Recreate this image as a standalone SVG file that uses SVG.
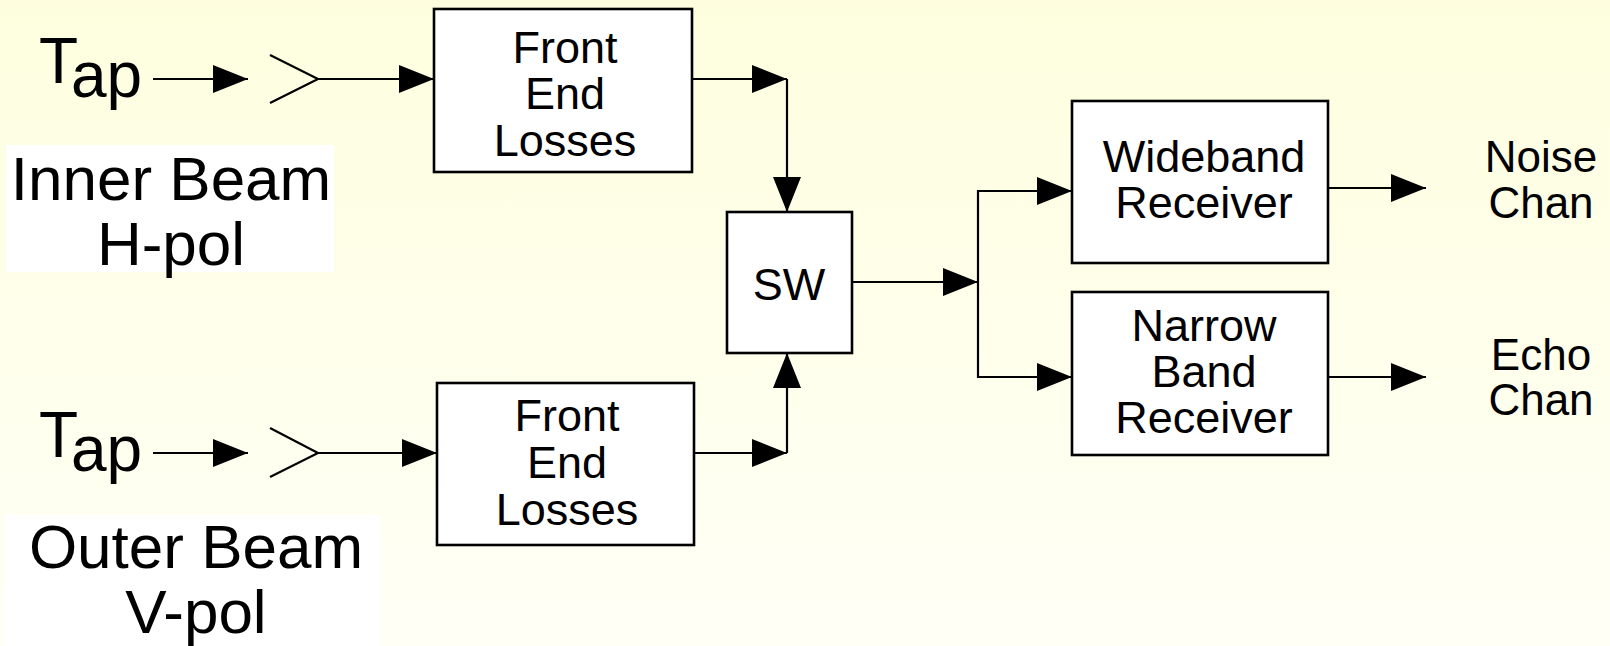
<svg xmlns="http://www.w3.org/2000/svg" width="1610" height="646" viewBox="0 0 1610 646">
<defs>
<linearGradient id="bg" x1="0" y1="0" x2="0" y2="1">
<stop offset="0" stop-color="#FEFEDF"/>
<stop offset="1" stop-color="#FFFFF6"/>
</linearGradient>
<marker id="ah" markerUnits="userSpaceOnUse" markerWidth="36" markerHeight="28" refX="35" refY="14" orient="auto">
<path d="M0,0 L35,14 L0,28 z" fill="#000"/>
</marker>
</defs>
<style>
.box{fill:#fff;stroke:#000;stroke-width:2.6}
.t{font-family:"Liberation Sans",Arial,sans-serif;fill:#000;text-anchor:middle}
.bt{font-size:45px}
.lt{font-size:62px}
.ct{font-size:44px}
.tap{font-family:"Liberation Sans",Arial,sans-serif;font-size:64px;fill:#000}
.c{fill:none;stroke:#000;stroke-width:2.2}
.a{marker-end:url(#ah)}
</style>
<rect x="0" y="0" width="1610" height="646" fill="url(#bg)"/>

<g id="label-inner">
<rect x="6" y="145" width="328" height="127" fill="#fff"/>
<text class="t lt" x="171" y="200">Inner Beam</text>
<text class="t lt" x="171" y="265">H-pol</text>
</g>
<g id="label-outer">
<rect x="5" y="515" width="375" height="131" fill="#fff"/>
<text class="t lt" x="196" y="568">Outer Beam</text>
<text class="t lt" x="196" y="633">V-pol</text>
</g>

<g id="tap-top">
<text class="tap" x="39" y="83">T<tspan dy="14">ap</tspan></text>
</g>
<g id="tap-bottom">
<text class="tap" x="39" y="457">T<tspan dy="14">ap</tspan></text>
</g>

<g id="antenna-top">
<polyline class="c" points="270,55 318,79 270,103"/>
</g>
<g id="antenna-bottom">
<polyline class="c" points="270,428 318,453 270,477"/>
</g>

<g id="fel-top">
<rect class="box" x="434" y="9" width="258" height="163"/>
<text class="t bt" x="565" y="63">Front</text>
<text class="t bt" x="565" y="109">End</text>
<text class="t bt" x="565" y="156">Losses</text>
</g>
<g id="fel-bottom">
<rect class="box" x="437" y="383" width="257" height="162"/>
<text class="t bt" x="567" y="431">Front</text>
<text class="t bt" x="567" y="478">End</text>
<text class="t bt" x="567" y="525">Losses</text>
</g>
<g id="sw">
<rect class="box" x="727" y="212" width="125" height="141"/>
<text class="t bt" x="789" y="300">SW</text>
</g>
<g id="wideband">
<rect class="box" x="1072" y="101" width="256" height="162"/>
<text class="t bt" x="1204" y="172">Wideband</text>
<text class="t bt" x="1204" y="218">Receiver</text>
</g>
<g id="narrow">
<rect class="box" x="1072" y="292" width="256" height="163"/>
<text class="t bt" x="1204" y="341">Narrow</text>
<text class="t bt" x="1204" y="387">Band</text>
<text class="t bt" x="1204" y="433">Receiver</text>
</g>
<g id="noise">
<text class="t ct" x="1541" y="172">Noise</text>
<text class="t ct" x="1541" y="218">Chan</text>
</g>
<g id="echo">
<text class="t ct" x="1541" y="370">Echo</text>
<text class="t ct" x="1541" y="415">Chan</text>
</g>

<g id="connectors">
<line class="c a" x1="153" y1="79" x2="248" y2="79"/>
<line class="c a" x1="318" y1="79" x2="434" y2="79"/>
<line class="c a" x1="692" y1="79" x2="787" y2="79"/>
<line class="c a" x1="787" y1="79" x2="787" y2="212"/>
<line class="c a" x1="153" y1="453" x2="248" y2="453"/>
<line class="c a" x1="318" y1="453" x2="437" y2="453"/>
<line class="c a" x1="694" y1="453" x2="787" y2="453"/>
<line class="c a" x1="787" y1="453" x2="787" y2="353"/>
<line class="c a" x1="852" y1="282" x2="978" y2="282"/>
<line class="c" x1="978" y1="190" x2="978" y2="378"/>
<line class="c a" x1="978" y1="191" x2="1072" y2="191"/>
<line class="c a" x1="978" y1="377" x2="1072" y2="377"/>
<line class="c a" x1="1328" y1="188" x2="1426" y2="188"/>
<line class="c a" x1="1328" y1="377" x2="1426" y2="377"/>
</g>
</svg>
